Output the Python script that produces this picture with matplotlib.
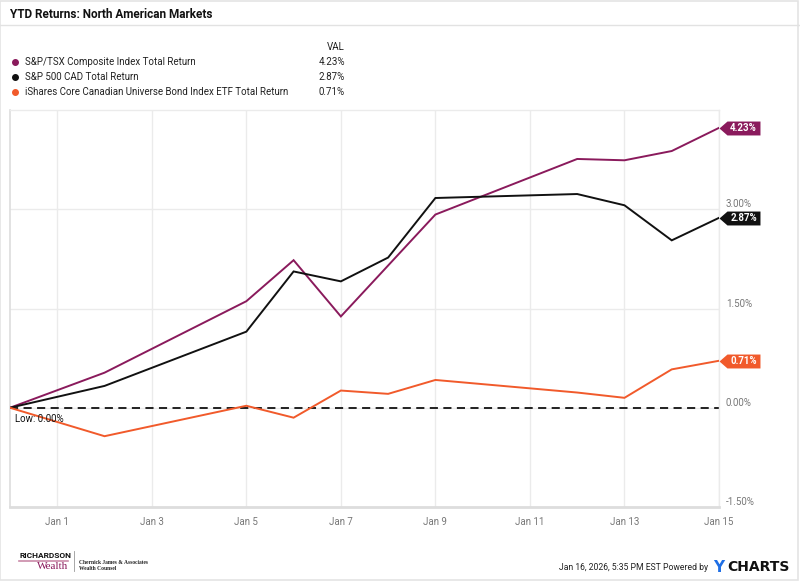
import numpy as np
import matplotlib
matplotlib.use("Agg")
import matplotlib.pyplot as plt
from matplotlib.path import Path
from matplotlib.markers import MarkerStyle
from matplotlib.patches import Rectangle
from matplotlib.lines import Line2D

plt.rcParams['font.family'] = ['Roboto', 'DejaVu Sans']

# ---------------- data ----------------
dates = np.array(['2025-12-31', '2026-01-02', '2026-01-05', '2026-01-06', '2026-01-07',
                  '2026-01-08', '2026-01-09', '2026-01-12', '2026-01-13', '2026-01-14',
                  '2026-01-15'], dtype='datetime64[D]')
series_names = ["S&P/TSX Composite Index Total Return",
                "S&P 500 CAD Total Return",
                "iShares Core Canadian Universe Bond Index ETF Total Return"]
tsx = [0.00, 0.53, 1.61, 2.23, 1.38, 2.15, 2.92, 3.76, 3.74, 3.88, 4.23]
sp500 = [0.00, 0.33, 1.15, 2.06, 1.91, 2.27, 3.17, 3.23, 3.06, 2.53, 2.87]
bond = [0.00, -0.43, 0.03, -0.15, 0.26, 0.21, 0.42, 0.23, 0.15, 0.58, 0.71]
last_labels = ["4.23%", "2.87%", "0.71%"]
colors = ['#8a1a5c', '#111111', '#f15a2b']
xtick_dates = np.array(['2026-01-01', '2026-01-03', '2026-01-05', '2026-01-07', '2026-01-09',
                        '2026-01-11', '2026-01-13', '2026-01-15'], dtype='datetime64[D]')
xtick_labels = ["Jan 1", "Jan 3", "Jan 5", "Jan 7", "Jan 9", "Jan 11", "Jan 13", "Jan 15"]
ytick_vals = [-1.5, 0.0, 1.5, 3.0]
ytick_labels = ["-1.50%", "0.00%", "1.50%", "3.00%"]

# ---------------- figure ----------------
W, H = 800, 581
fig = plt.figure(figsize=(W / 100, H / 100), dpi=100)
fig.patch.set_facecolor('white')

def fx(px):
    return px / W

def fy(py):
    return 1 - py / H

# outer border
fig.add_artist(Rectangle((0.0005, 0.001), 0.997, 0.997, transform=fig.transFigure,
                         fill=False, ec='#e4e4e4', lw=1.2))

# title
fig.text(fx(10), fy(15), "YTD Returns: North American Markets", fontsize=8.5,
         fontweight='bold', color='#111111', va='center', ha='left')
fig.add_artist(Line2D([0, 1], [fy(25), fy(25)], transform=fig.transFigure,
                      color='#e2e2e2', lw=1))

# legend
fig.text(fx(345), fy(47), "VAL", fontsize=7, color='#222222', ha='right', va='center')
for i, (name, c, lab) in enumerate(zip(series_names, colors, last_labels)):
    yy = fy(62 + 15 * i)
    fig.add_artist(Line2D([fx(15)], [yy], marker='o', markersize=4, color=c,
                          transform=fig.transFigure, lw=0))
    fig.text(fx(25), yy, name, fontsize=7, color='#222222', ha='left', va='center')
    fig.text(fx(345), yy, lab, fontsize=7, color='#222222', ha='right', va='center')

# axes
left, right, top, bottom = 10, 719, 110, 507
ax = fig.add_axes([fx(left), fy(bottom), fx(right - left), (bottom - top) / H])
ax.set_facecolor('white')

for vals, c in zip([tsx, sp500, bond], colors):
    ax.plot(dates, vals, color=c, lw=1.4, zorder=3, solid_joinstyle='miter')

ax.axhline(0, color='#111111', lw=1.3, ls=(0, (4.5, 3)), zorder=2)

ax.set_xlim(dates[0], xtick_dates[-1])
ax.set_ylim(-1.5, 4.5)

ax.set_xticks(xtick_dates)
ax.set_xticklabels(xtick_labels)
ax.yaxis.tick_right()
ax.set_yticks(ytick_vals)
ax.set_yticklabels(ytick_labels)
for lbl in ax.get_yticklabels():
    lbl.set_va('bottom')
ax.tick_params(axis='both', length=0, labelsize=7, labelcolor='#777777')
ax.tick_params(axis='x', pad=7)
ax.tick_params(axis='y', pad=5)

ax.grid(True, color='#ebebeb', lw=1, zorder=0)
ax.set_axisbelow(True)
for s in ['top', 'right']:
    ax.spines[s].set_color('#ebebeb')
    ax.spines[s].set_linewidth(1)
ax.spines['left'].set_color('#dddddd')
ax.spines['left'].set_linewidth(1.2)
ax.spines['bottom'].set_color('#dddddd')
ax.spines['bottom'].set_linewidth(2)

# Low annotation
ax.annotate("Low: 0.00%", xy=(dates[0], 0), xytext=(5, -11), textcoords='offset pixels',
            fontsize=7, color='#111111', ha='left', va='center', zorder=5)

# end-value badges
badge_path = Path([(0, 0), (0.195, 0.17), (1, 0.17), (1, -0.17), (0.195, -0.17), (0, 0)],
                  [Path.MOVETO, Path.LINETO, Path.LINETO, Path.LINETO, Path.LINETO, Path.CLOSEPOLY])
badge_marker = MarkerStyle(badge_path)
for vals, c, lab in zip([tsx, sp500, bond], colors, last_labels):
    ax.plot([dates[-1]], [vals[-1]], marker=badge_marker, markersize=59, color=c,
            markeredgewidth=0, clip_on=False, zorder=6, lw=0)
    ax.annotate(lab, xy=(dates[-1], vals[-1]), xytext=(24.5, 0), textcoords='offset pixels',
                fontsize=7, fontweight='bold', color='white', ha='center', va='center',
                zorder=7, annotation_clip=False)

# footer
fig.text(fx(19), fy(555), "RICHARDSON", fontsize=6, fontweight='bold', color='#111111',
         ha='left', va='center')
fig.add_artist(Line2D([fx(19), fx(68)], [fy(560.5), fy(560.5)], transform=fig.transFigure,
                      color='#c98aa8', lw=1.2))
fig.text(fx(68), fy(566.5), "Wealth", fontsize=8, color='#8a1a5c', ha='right', va='center',
         family=['Liberation Serif', 'DejaVu Serif'])
fig.add_artist(Line2D([fx(74), fx(74)], [fy(551), fy(571)], transform=fig.transFigure,
                      color='#999999', lw=0.6))
fig.text(fx(79), fy(563), "Chernick James & Associates", fontsize=4, color='#222222',
         ha='left', va='center', family=['Liberation Serif', 'DejaVu Serif'], fontweight='bold')
fig.text(fx(79), fy(568.5), "Wealth Counsel", fontsize=4, color='#222222',
         ha='left', va='center', family=['Liberation Serif', 'DejaVu Serif'], fontweight='bold')

fig.text(fx(708), fy(568), "Jan 16, 2026, 5:35 PM EST Powered by", fontsize=6.2,
         color='#222222', ha='right', va='center')
fig.text(fx(713), fy(567), "Y", fontsize=11, fontweight='bold', color='#1f6fe5',
         ha='left', va='center', family=['DejaVu Sans'])
fig.text(fx(727), fy(567), "CHARTS", fontsize=10, fontweight='bold', color='#111111',
         ha='left', va='center', family=['DejaVu Sans'])

fig.savefig("out.png", dpi=100, facecolor='white')
